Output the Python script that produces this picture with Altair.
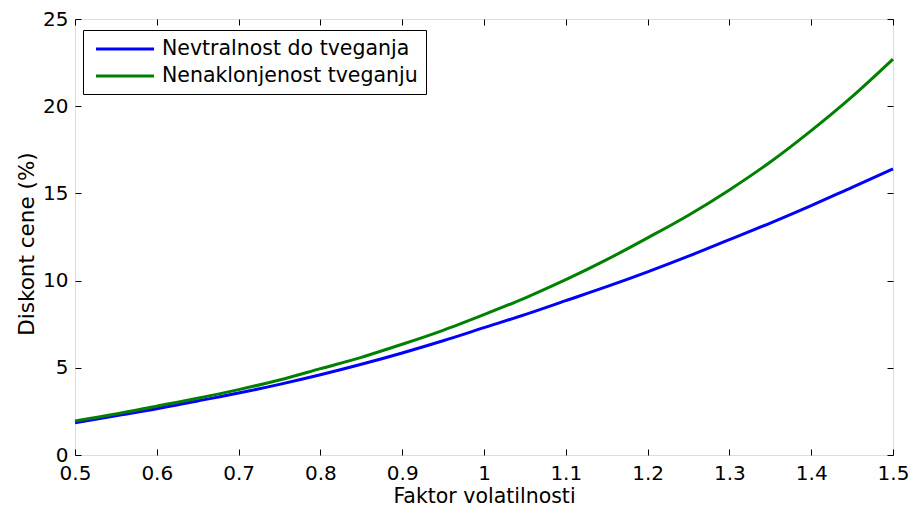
import altair as alt
import pandas as pd

x_vals = [0.50, 0.55, 0.60, 0.65, 0.70, 0.75, 0.80, 0.85, 0.90, 0.95, 1.00,
          1.05, 1.10, 1.15, 1.20, 1.25, 1.30, 1.35, 1.40, 1.45, 1.50]
neutral = [1.85, 2.25, 2.65, 3.1, 3.55, 4.05, 4.6, 5.2, 5.85, 6.55, 7.3,
           8.05, 8.85, 9.65, 10.5, 11.4, 12.35, 13.3, 14.3, 15.35, 16.4]
averse = [1.95, 2.35, 2.8, 3.25, 3.75, 4.3, 4.95, 5.6, 6.35, 7.15, 8.05,
          9.0, 10.05, 11.2, 12.45, 13.75, 15.2, 16.8, 18.6, 20.55, 22.7]
series_names = ["Nevtralnost do tveganja", "Nenaklonjenost tveganju"]
series_colors = ["#0000ff", "#008000"]
x_ticks = [0.5, 0.6, 0.7, 0.8, 0.9, 1.0, 1.1, 1.2, 1.3, 1.4, 1.5]
y_ticks = [0, 5, 10, 15, 20, 25]

rows = []
for name, vals in zip(series_names, [neutral, averse]):
    for xv, yv in zip(x_vals, vals):
        rows.append({"x": xv, "y": yv, "serija": name})
df = pd.DataFrame(rows)

FONT = "DejaVu Sans"
xs = alt.Scale(domain=[0.5, 1.5], nice=False, zero=False)
ys = alt.Scale(domain=[0, 25], nice=False)

common_axis = dict(grid=False, domain=False, tickSize=6, offset=-6,
                   tickColor="black", tickWidth=1, labelFlush=False,
                   labelOverlap=False, labelFont=FONT, labelFontSize=20,
                   labelColor="black", titleFont=FONT,
                   titleColor="black", titleFontWeight="normal")

x_bottom = alt.Axis(values=x_ticks, orient="bottom", format=".1~f",
                    labelPadding=8, title="Faktor volatilnosti",
                    titleFontSize=20.5, titleBaseline="alphabetic",
                    titleY=53, **common_axis)
y_left = alt.Axis(values=y_ticks, orient="left", labelPadding=7,
                  title="Diskont cene (%)", titleFontSize=21.5,
                  titleBaseline="alphabetic", titleX=-48, titleY=224.5,
                  **common_axis)
x_top = alt.Axis(values=x_ticks, orient="top", labels=False, title=None,
                 grid=False, domain=False, tickSize=6, offset=-6,
                 tickColor="black", tickWidth=1)
y_right = alt.Axis(values=y_ticks, orient="right", labels=False, title=None,
                   grid=False, domain=False, tickSize=6, offset=-6,
                   tickColor="black", tickWidth=1)

lines = alt.Chart(df).mark_line(strokeWidth=3, interpolate="monotone").encode(
    x=alt.X("x:Q", scale=xs, axis=x_bottom),
    y=alt.Y("y:Q", scale=ys, axis=y_left),
    color=alt.Color(
        "serija:N",
        scale=alt.Scale(domain=series_names, range=series_colors),
        legend=alt.Legend(
            title=None, orient="none", legendX=8, legendY=11,
            symbolType="M-0.6,0H5.2", symbolSize=400, symbolStrokeWidth=3,
            labelOffset=48.5, labelFont=FONT, labelFontSize=20.5,
            labelColor="black", labelLimit=0, rowPadding=5, padding=7.5,
            strokeColor="black", fillColor="white",
        ),
    ),
    order=alt.Order("x:Q"),
)

mirror = alt.Chart(df).mark_line(opacity=0).encode(
    x=alt.X("x:Q", scale=xs, axis=x_top),
    y=alt.Y("y:Q", scale=ys, axis=y_right),
    detail="serija:N",
)

chart = (
    alt.layer(lines, mirror)
    .resolve_axis(x="independent", y="independent")
    .properties(width=818, height=436,
                autosize=alt.AutoSizeParams(type="none"),
                padding={"left": 75, "top": 19, "right": 16, "bottom": 51})
    .configure_view(stroke="black", strokeWidth=1)
    .configure(background="white")
)

chart.save("out.html", embed_options={"renderer": "svg", "actions": False})
